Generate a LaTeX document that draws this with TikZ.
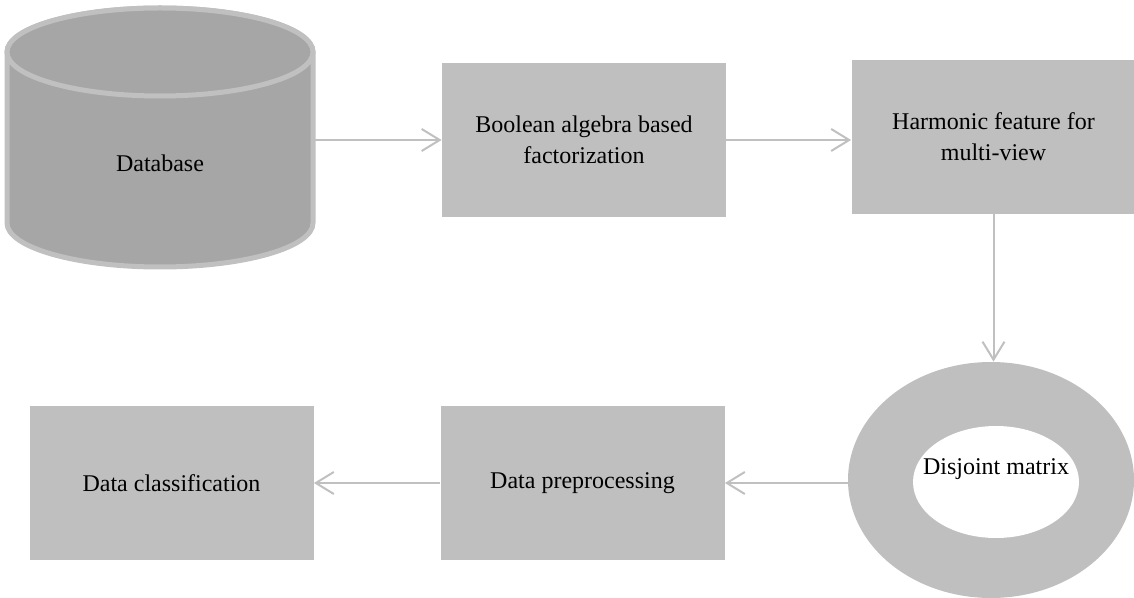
\documentclass[tikz,border=0pt]{standalone}
\usepackage{fontspec}
\setmainfont{Liberation Serif}
\usetikzlibrary{arrows.meta,shapes.geometric}
\definecolor{boxgray}{HTML}{BFBFBF}
\definecolor{dbgray}{HTML}{A6A6A6}
\definecolor{linegray}{HTML}{C0C0C0}
\begin{document}
\begin{tikzpicture}[x=0.5pt,y=-0.5pt,
    stage/.style={fill=boxgray, minimum width=142pt, minimum height=77pt,
                  align=center, font=\fontsize{12}{15.5}\selectfont, inner sep=0pt},
    flow/.style={draw=linegray, line width=1pt, -{Straight Barb[length=9pt,width=11pt]}}]

    \useasboundingbox (0,0) rectangle (1134,598);

    % database cylinder
    \filldraw[fill=dbgray, draw=linegray, line width=2.5pt]
        (7,223) arc[start angle=180, end angle=360, x radius=76.5pt, y radius=22pt]
        -- (313,52) arc[start angle=0, end angle=180, x radius=76.5pt, y radius=22pt]
        -- cycle;
    \filldraw[fill=dbgray, draw=linegray, line width=2.5pt]
        (160,52) ellipse[x radius=76.5pt, y radius=22pt];
    \node[font=\fontsize{12}{15.5}\selectfont] (db) at (160,163) {Database};
    \coordinate (dbr) at (313,140);

    % boxes
    \node[stage] (bool) at (584,140)   {Boolean algebra based\\factorization};
    \node[stage] (harm) at (993.5,137) {Harmonic feature for\\multi-view};
    \node[stage] (prep) at (582.5,483) {Data preprocessing};
    \node[stage] (clas) at (171.5,483) {Data classification};

    % disjoint matrix ring
    \node[ellipse, fill=boxgray, minimum width=143pt, minimum height=118pt, inner sep=0pt] (dj) at (991,480) {};
    \node[ellipse, fill=white, minimum width=83pt, minimum height=56pt, inner sep=0pt] (djin) at (996,482) {};
    \node[font=\fontsize{12}{15.5}\selectfont] (djtext) at (996,469) {Disjoint matrix};

    % arrows
    \draw[flow] (dbr) -- (bool.west |- dbr);
    \draw[flow] (bool.east) -- (harm.west |- bool.east);
    \draw[flow] (harm.south) -- (harm.south |- dj.north);
    \draw[flow] (dj.west |- prep.east) -- (prep.east);
    \draw[flow] (prep.west) -- (clas.east);
\end{tikzpicture}
\end{document}
